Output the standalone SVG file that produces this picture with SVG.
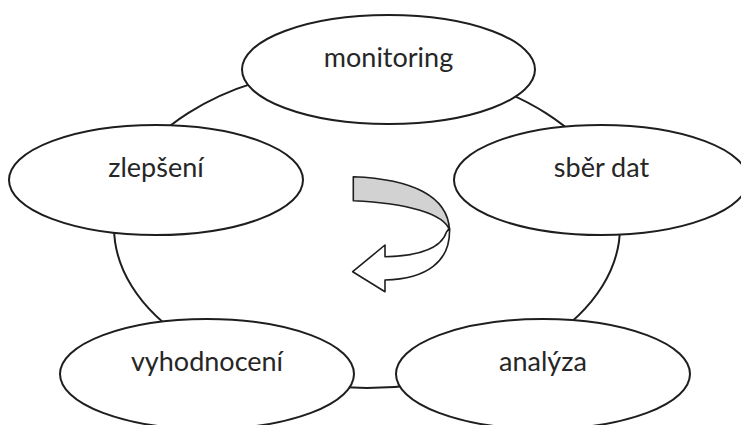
<svg xmlns="http://www.w3.org/2000/svg" width="741" height="425" viewBox="0 0 741 425">
  <style>
    .ring { fill: none; stroke: #1e1e1e; stroke-width: 2; }
    .node ellipse { fill: #ffffff; stroke: #1e1e1e; stroke-width: 2; }
    .node text { font-family: Lato, "Liberation Sans", sans-serif; font-size: 27px; fill: #262626; text-anchor: middle; }
    .arrow-top { fill: #d2d2d2; stroke: #1e1e1e; stroke-width: 1.6; stroke-linejoin: round; }
    .arrow-body { fill: #ffffff; stroke: #1e1e1e; stroke-width: 1.6; stroke-linejoin: round; }
  </style>
  <rect width="741" height="425" fill="#ffffff"/>

  <!-- cycle ring linking the stages -->
  <g id="connectors">
    <ellipse class="ring" cx="367" cy="227" rx="253" ry="161"/>
  </g>

  <!-- central turning arrow: shaded top band twisting into a white arrow -->
  <g id="cycle-arrow">
    <path class="arrow-body" d="M 449.5 228 C 451 262 426 279 385 280 L 385 291.7 L 352.7 271.7 L 385 245 L 385 256.7 C 418 256 441 249 446.5 232 Z"/>
    <path class="arrow-top" d="M 353.3 176.7 C 412 179 448 196 449.5 230 C 444 214 408 203 353.3 200.7 Z"/>
  </g>

  <g id="node-monitoring" class="node">
    <ellipse cx="388.5" cy="69.5" rx="146.5" ry="54.5"/>
    <text x="388.5" y="67">monitoring</text>
  </g>
  <g id="node-sber-dat" class="node">
    <ellipse cx="601" cy="180" rx="147" ry="55"/>
    <text x="601.5" y="177">sběr dat</text>
  </g>
  <g id="node-analyza" class="node">
    <ellipse cx="543" cy="374" rx="147" ry="55"/>
    <text x="543" y="371">analýza</text>
  </g>
  <g id="node-vyhodnoceni" class="node">
    <ellipse cx="207" cy="374" rx="147" ry="55"/>
    <text x="207" y="371">vyhodnocení</text>
  </g>
  <g id="node-zlepseni" class="node">
    <ellipse cx="156" cy="180" rx="147" ry="55"/>
    <text x="156" y="177">zlepšení</text>
  </g>
</svg>
